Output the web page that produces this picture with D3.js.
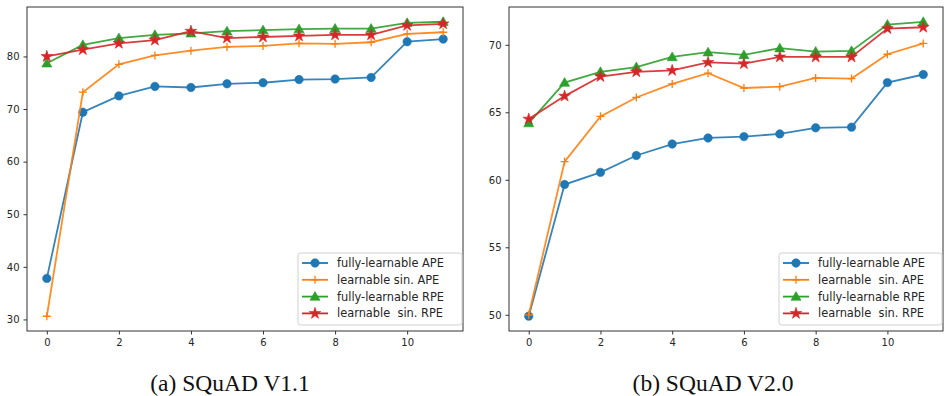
<!DOCTYPE html>
<html>
<head>
<meta charset="utf-8">
<script src="https://cdn.jsdelivr.net/npm/d3@7"></script>
<style>
  body { margin: 0; background: #fff; }
  text { font-family: "DejaVu Sans", sans-serif; }
  .caption { font-family: "Liberation Serif", "Times New Roman", serif; }
</style>
</head>
<body>
<div id="chart"></div>
<script>
// Epochs on the x axis
const steps = [0, 1, 2, 3, 4, 5, 6, 7, 8, 9, 10, 11];

// (a) SQuAD V1.1
const v11FullAPE = [37.8, 69.4, 72.5, 74.3, 74.1, 74.8, 75.0, 75.6, 75.7, 76.0, 82.8, 83.3];
const v11SinAPE = [30.6, 73.2, 78.5, 80.2, 81.1, 81.8, 82.0, 82.5, 82.4, 82.7, 84.3, 84.6];
const v11FullRPE = [78.7, 82.2, 83.5, 84.1, 84.4, 84.8, 85.0, 85.2, 85.3, 85.3, 86.4, 86.6];
const v11SinRPE = [80.0, 81.3, 82.5, 83.1, 84.8, 83.5, 83.7, 83.9, 84.1, 84.1, 85.9, 86.2];

// (b) SQuAD V2.0
const v20FullAPE = [49.9, 59.65, 60.55, 61.8, 62.65, 63.1, 63.2, 63.4, 63.85, 63.9, 67.2, 67.8];
const v20SinAPE = [50.0, 61.35, 64.7, 66.1, 67.1, 67.9, 66.8, 66.9, 67.55, 67.5, 69.3, 70.1];
const v20FullRPE = [64.2, 67.2, 68.0, 68.35, 69.1, 69.45, 69.25, 69.75, 69.5, 69.55, 71.5, 71.7];
const v20SinRPE = [64.5, 66.2, 67.65, 68.0, 68.1, 68.7, 68.6, 69.1, 69.1, 69.1, 71.2, 71.3];

const xTicks = [0, 2, 4, 6, 8, 10];
const v11YTicks = [30, 40, 50, 60, 70, 80];
const v20YTicks = [50, 55, 60, 65, 70];

const labelsA = ['fully-learnable APE', 'learnable sin. APE', 'fully-learnable RPE', 'learnable  sin. RPE'];
const labelsB = ['fully-learnable APE', 'learnable  sin. APE', 'fully-learnable RPE', 'learnable  sin. RPE'];

const colors = ['#1f77b4', '#ff7f0e', '#2ca02c', '#d62728'];
const shapes = ['circle', 'plus', 'triangle', 'star'];

const width = 946;
const height = 396;

const svg = d3.select('#chart')
  .append('svg')
  .attr('width', width)
  .attr('height', height);

// draw one marker of a given shape at (0,0) inside g
function addMarker(g, shape, color) {
  if (shape === 'plus') {
    g.append('path')
      .attr('d', 'M-4,0H4M0,-4V4')
      .attr('stroke', color)
      .attr('stroke-width', 1.3)
      .attr('fill', 'none');
  } else {
    const sym = {
      circle: d3.symbol().type(d3.symbolCircle).size(56),
      triangle: d3.symbol().type(d3.symbolTriangle).size(44),
      star: d3.symbol().type(d3.symbolStar).size(42),
    }[shape];
    g.append('path')
      .attr('d', sym())
      .attr('transform', shape === 'triangle' ? 'translate(0,0.8)' : null)
      .attr('fill', color)
      .attr('stroke', color)
      .attr('stroke-width', 0.6);
  }
}

function drawPanel(opts) {
  const { left, right, top, bottom, yDomain, yTicks, series, labels, caption, captionX, legendX } = opts;

  const x = d3.scaleLinear().domain([-0.55, 11.55]).range([left, right]);
  const y = d3.scaleLinear().domain(yDomain).range([bottom, top]);

  const panel = svg.append('g');

  // axes
  const xAxis = panel.append('g')
    .attr('transform', `translate(0,${bottom})`)
    .call(d3.axisBottom(x).tickValues(xTicks).tickSize(3.5).tickPadding(4).tickFormat(d3.format('d')));
  const yAxis = panel.append('g')
    .attr('transform', `translate(${left},0)`)
    .call(d3.axisLeft(y).tickValues(yTicks).tickSize(3.5).tickPadding(4).tickFormat(d3.format('d')));

  [xAxis, yAxis].forEach((a) => {
    a.select('.domain').remove();
    a.selectAll('line').attr('stroke', '#333');
    a.selectAll('text').attr('font-size', 10).attr('fill', '#262626')
      .attr('font-family', '"DejaVu Sans", sans-serif');
  });

  // frame
  panel.append('rect')
    .attr('x', left)
    .attr('y', top)
    .attr('width', right - left)
    .attr('height', bottom - top)
    .attr('fill', 'none')
    .attr('stroke', '#333')
    .attr('stroke-width', 1);

  const line = d3.line()
    .x((d, i) => x(steps[i]))
    .y((d) => y(d));

  series.forEach((vals, k) => {
    const g = panel.append('g');
    g.append('path')
      .datum(vals)
      .attr('d', line)
      .attr('fill', 'none')
      .attr('stroke', colors[k])
      .attr('stroke-width', 1.8)
      .attr('stroke-opacity', 0.9);
    vals.forEach((v, i) => {
      const m = g.append('g').attr('transform', `translate(${x(steps[i])},${y(v)})`);
      addMarker(m, shapes[k], colors[k]);
    });
  });

  // legend
  const lgW = right - 1 - legendX;
  const lgTop = 253;
  const lg = panel.append('g');
  lg.append('rect')
    .attr('x', legendX)
    .attr('y', lgTop)
    .attr('width', lgW)
    .attr('height', 72)
    .attr('rx', 2.5)
    .attr('fill', '#fff')
    .attr('fill-opacity', 0.85)
    .attr('stroke', '#d0d0d0')
    .attr('stroke-width', 1);

  labels.forEach((lab, k) => {
    const ly = lgTop + 10 + k * 16.8;
    const row = lg.append('g');
    row.append('line')
      .attr('x1', legendX + 4)
      .attr('x2', legendX + 30)
      .attr('y1', ly)
      .attr('y2', ly)
      .attr('stroke', colors[k])
      .attr('stroke-width', 1.8);
    const m = row.append('g').attr('transform', `translate(${legendX + 17},${ly})`);
    addMarker(m, shapes[k], colors[k]);
    row.append('text')
      .attr('x', legendX + 39)
      .attr('y', ly)
      .attr('dy', '0.35em')
      .attr('font-size', 11.4)
      .attr('fill', '#262626')
      .style('white-space', 'pre')
      .text(lab);
  });

  svg.append('text')
    .attr('class', 'caption')
    .attr('x', captionX)
    .attr('y', 391)
    .attr('text-anchor', 'middle')
    .attr('font-size', 23.5)
    .attr('fill', '#111')
    .text(caption);
}

drawPanel({
  left: 27, right: 463, top: 7, bottom: 331,
  yDomain: [27.8, 89.4],
  yTicks: v11YTicks,
  series: [v11FullAPE, v11SinAPE, v11FullRPE, v11SinRPE],
  labels: labelsA,
  caption: '(a) SQuAD V1.1',
  captionX: 230,
  legendX: 298,
});

drawPanel({
  left: 509, right: 943, top: 7, bottom: 331,
  yDomain: [48.8, 72.8],
  yTicks: v20YTicks,
  series: [v20FullAPE, v20SinAPE, v20FullRPE, v20SinRPE],
  labels: labelsB,
  caption: '(b) SQuAD V2.0',
  captionX: 713,
  legendX: 779,
});
</script>
</body>
</html>
